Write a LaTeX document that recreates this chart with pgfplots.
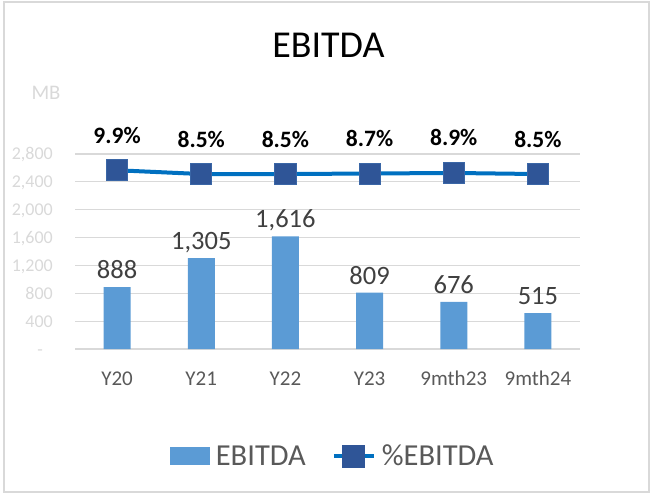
\documentclass[border=0pt]{standalone}
\usepackage{fontspec}
\setmainfont{Carlito}
\usepackage{pgfplots}
\pgfplotsset{compat=1.18}
\definecolor{barblue}{HTML}{5B9BD5}
\definecolor{lineblue}{HTML}{0070C0}
\definecolor{markblue}{HTML}{2F5597}
\definecolor{gridgray}{HTML}{D9D9D9}
\definecolor{ticklight}{HTML}{D9D9D9}
\definecolor{labelgray}{HTML}{404040}
\definecolor{xgray}{HTML}{595959}
\definecolor{framegray}{HTML}{D9D9D9}
\begin{document}
\begin{tikzpicture}
\begin{axis}[
  scale only axis, width=505bp, height=195bp,
  xmin=-0.5, xmax=5.5, ymin=0, ymax=2800,
  xtick={0,1,2,3,4,5},
  xticklabels={Y20,Y21,Y22,Y23,9mth23,9mth24},
  ytick={0,400,800,1200,1600,2000,2400,2800},
  yticklabels={{-\hspace*{10bp}},{400},{800},{1,200},{1,600},{2,000},{2,400},{2,800}},
  ymajorgrids, grid style={gridgray, line width=1.2bp},
  axis line style={draw=none}, major tick length=0pt,
  xticklabel style={font=\fontsize{21bp}{24bp}\selectfont, text=xgray, anchor=base, inner sep=0pt, yshift=-36bp},
  yticklabel style={font=\fontsize{18bp}{21bp}\selectfont, text=ticklight, anchor=base east, inner sep=0pt, xshift=-22bp, yshift=-6bp},
  clip=false,
  ybar, bar width=27bp,
  nodes near coords, point meta=explicit symbolic,
  every node near coord/.append style={font=\fontsize{26.5bp}{30bp}\selectfont, text=labelgray, anchor=base, inner sep=0pt, yshift=8.5bp},
]
\addplot[fill=barblue, draw=none] table[x=x, y=y, meta=label] {
x y label
0 888 888
1 1305 1,305
2 1616 1,616
3 809 809
4 676 676
5 515 515
};
\node[anchor=base, font=\fontsize{38bp}{44bp}\selectfont, text=black, inner sep=0pt] at (axis description cs:0.502,1.496) {EBITDA};
\node[anchor=base, font=\fontsize{20.7bp}{24bp}\selectfont, text=ticklight, inner sep=0pt] at (axis description cs:-0.0574,1.277) {MB};
\end{axis}
\begin{axis}[
  scale only axis, width=505bp, height=195bp,
  xmin=-0.5, xmax=5.5, ymin=-56.1, ymax=15.9,
  hide axis, clip=false,
  nodes near coords, point meta=explicit symbolic,
  every node near coord/.append style={font=\bfseries\fontsize{23.5bp}{27bp}\selectfont, text=black, anchor=base, inner sep=0pt, yshift=27bp},
  legend columns=2,
  legend cell align=left,
  legend style={at={(axis description cs:0.509,-0.549)}, anchor=center, draw=none, fill=none, inner sep=0pt,
    font=\fontsize{30.5bp}{34bp}\selectfont, text=xgray, nodes={inner sep=0pt},
    column sep=0pt,
    /tikz/every odd column/.append style={column sep=6bp},
    /tikz/every even column/.append style={column sep=26bp}},
]
\addlegendimage{legend image code/.code={\fill[barblue] (0bp,-8.5bp) rectangle (39bp,8.5bp);}}
\addlegendentry{EBITDA}
\addplot[lineblue, line width=4bp, mark=square*, mark size=10.6bp,
  mark options={fill=markblue, draw=markblue!75!barblue, line width=0.8bp, solid},
  legend image code/.code={\draw[lineblue, line width=4bp] (0bp,0bp) -- (40bp,0bp);
     \fill[markblue] (10.5bp,-9.5bp) rectangle (29.5bp,9.5bp);}]
coordinates {(0,9.9) [9.9\%] (1,8.5) [8.5\%] (2,8.5) [8.5\%] (3,8.7) [8.7\%] (4,8.9) [8.9\%] (5,8.5) [8.5\%]};
\addlegendentry{\%EBITDA}
\end{axis}
\draw[framegray, line width=1.2bp] (-71bp,-143bp) rectangle (574bp,347bp);
\pgfresetboundingbox
\useasboundingbox (-75bp,-145bp) rectangle (576bp,349bp);
\end{tikzpicture}
\end{document}
